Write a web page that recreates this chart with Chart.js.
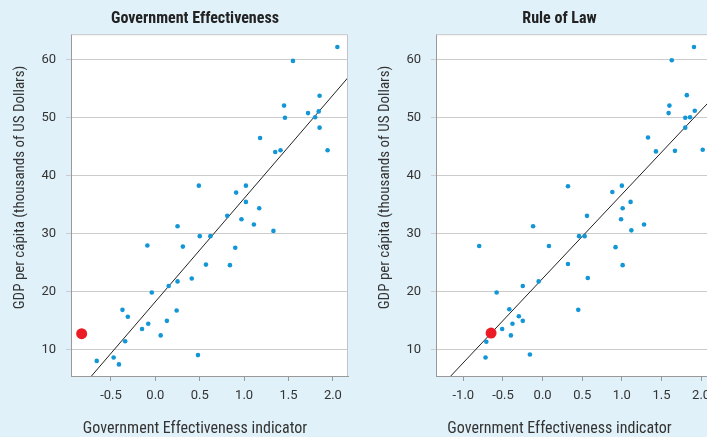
<!DOCTYPE html>
<html>
<head>
<meta charset="utf-8">
<script src="https://cdn.jsdelivr.net/npm/chart.js@4.4.1/dist/chart.umd.min.js"></script>
<style>
  html, body { margin: 0; padding: 0; background: #e1f1f9; overflow: hidden; }
  body { width: 707px; height: 437px; position: relative; }
  .box { position: absolute; top: 0; height: 437px; }
  #boxLeft { left: 0; width: 390px; }
  #boxRight { left: 366px; width: 387px; }
</style>
</head>
<body>
<div class="box" id="boxLeft"><canvas id="chartGov"></canvas></div>
<div class="box" id="boxRight"><canvas id="chartLaw"></canvas></div>
<script>
// Government Effectiveness panel (x = indicator, y = GDP per capita, thousands USD)
const govX = [2.05, 1.55, 1.85, 1.45, 1.72, 1.84, 1.46, 1.80, 1.85, 1.18, 1.35, 1.41, 1.94,
  0.49, 1.02, 0.91, 1.02, 1.17, 0.81, 0.97, 1.11, 0.25, 1.33, 0.50, 0.62, -0.09, 0.31, 0.90,
  0.57, 0.84, 0.41, 0.25, 0.15, -0.04, -0.37, 0.24, -0.31, 0.13, -0.08, -0.15, 0.06, -0.34,
  0.48, -0.47, -0.66, -0.41];
const govY = [62.2, 59.8, 53.8, 52.1, 50.8, 51.1, 50.0, 50.1, 48.3, 46.5, 44.1, 44.4, 44.4,
  38.3, 38.3, 37.1, 35.5, 34.4, 33.1, 32.5, 31.6, 31.3, 30.5, 29.6, 29.6, 28.0, 27.8, 27.6,
  24.7, 24.6, 22.3, 21.8, 21.0, 19.9, 16.9, 16.8, 15.7, 15.0, 14.5, 13.6, 12.5, 11.5,
  9.1, 8.7, 8.1, 7.5];
const govHighlight = [-0.83, 12.8];
const govFit = [17.8, 18.3]; // slope, intercept

// Rule of Law panel
const lawX = [1.91, 1.63, 1.82, 1.60, 1.59, 1.92, 1.80, 1.86, 1.80, 1.33, 1.43, 1.67, 2.02,
  0.32, 1.00, 0.88, 1.11, 1.01, 0.56, 0.99, 1.28, -0.12, 1.12, 0.46, 0.53, -0.80, 0.08, 0.92,
  0.32, 1.01, 0.57, -0.05, -0.25, -0.58, -0.42, 0.45, -0.30, -0.25, -0.38, -0.51, -0.40,
  -0.71, -0.16, -0.72];
const lawY = [62.2, 59.9, 53.9, 52.1, 50.8, 51.2, 50.0, 50.1, 48.3, 46.6, 44.2, 44.3, 44.5,
  38.2, 38.3, 37.2, 35.5, 34.4, 33.1, 32.5, 31.6, 31.3, 30.6, 29.6, 29.6, 27.9, 27.9, 27.7,
  24.8, 24.6, 22.4, 21.8, 21.0, 19.9, 17.0, 16.9, 15.8, 15.0, 14.5, 13.6, 12.5,
  11.4, 9.2, 8.7];
const lawHighlight = [-0.65, 12.9];
const lawFit = [14.5, 22.3];

const yTicks = [10, 20, 30, 40, 50, 60];
const govTicks = [-0.5, 0.0, 0.5, 1.0, 1.5, 2.0];
const lawTicks = [-1.0, -0.5, 0.0, 0.5, 1.0, 1.5, 2.0];

const xTitle = "Government Effectiveness indicator";
const yTitle = "GDP per cápita (thousands of US Dollars)";

const narrow = "'Roboto Condensed', 'Liberation Sans Narrow', Roboto, sans-serif";
const tickFont = "Roboto, 'Liberation Sans', sans-serif";

const plotFrame = {
  id: 'plotFrame',
  beforeDraw(chart) {
    const {ctx, chartArea: a} = chart;
    ctx.save();
    ctx.fillStyle = '#ffffff';
    ctx.fillRect(a.left, a.top, a.right - a.left, a.bottom - a.top);
    ctx.restore();
  },
  afterDraw(chart) {
    const {ctx, chartArea: a} = chart;
    ctx.save();
    ctx.strokeStyle = '#c4c4c4';
    ctx.lineWidth = 1;
    ctx.beginPath();
    ctx.moveTo(a.left, a.top + 0.5);
    ctx.lineTo(a.right - 0.5, a.top + 0.5);
    ctx.lineTo(a.right - 0.5, a.bottom);
    ctx.stroke();
    ctx.restore();
  }
};

// axis titles centred over the whole panel rather than the plot area
function axisTitles(yTitleX) {
  return {
    id: 'axisTitles',
    afterDraw(chart) {
      const ctx = chart.ctx;
      ctx.save();
      ctx.fillStyle = '#333333';
      ctx.textAlign = 'center';
      ctx.textBaseline = 'middle';
      ctx.font = "16px " + narrow;
      ctx.fillText(xTitle, chart.width / 2, 429);
      ctx.font = "15px " + narrow;
      ctx.translate(yTitleX, 187.5);
      ctx.rotate(-Math.PI / 2);
      ctx.fillText(yTitle, 0, 0);
      ctx.restore();
    }
  };
}

function makeChart(id, title, xs, ys, hi, fit, xTicks, xMin, xMax, yAxisW, rightGap, yTitleX) {
  const pts = xs.map((x, i) => ({x: x, y: ys[i]}));
  const fitPts = [xMin - 1, xMax + 1].map(x => ({x: x, y: fit[0] * x + fit[1]}));
  return new Chart(document.getElementById(id), {
    type: 'scatter',
    data: {
      datasets: [
        {
          data: [{x: hi[0], y: hi[1]}],
          backgroundColor: '#ec1c27',
          borderWidth: 0,
          pointRadius: 5.5,
        },
        {
          data: pts,
          backgroundColor: '#1296d6',
          borderWidth: 0,
          pointRadius: 2.3,
        },
        {
          type: 'line',
          data: fitPts,
          borderColor: '#222222',
          borderWidth: 1,
          pointRadius: 0,
          fill: false,
        },
      ],
    },
    options: {
      responsive: true,
      maintainAspectRatio: false,
      animation: false,
      events: [],
      layout: { padding: 0 },
      plugins: {
        legend: { display: false },
        tooltip: { enabled: false },
        title: {
          display: true,
          text: title,
          color: '#222222',
          font: { family: narrow, size: 16, weight: 'bold', lineHeight: 1.2 },
          padding: { top: 9, bottom: 6 },
        },
      },
      scales: {
        x: {
          type: 'linear',
          min: xMin,
          max: xMax,
          afterBuildTicks: (s) => { s.ticks = xTicks.map(v => ({value: v})); },
          afterFit: (s) => { s.height = 61; },
          grid: { drawOnChartArea: false, drawTicks: true, tickLength: 5, color: '#999999' },
          border: { display: true, color: '#999999' },
          ticks: {
            color: '#333333',
            padding: 7,
            font: { family: tickFont, size: 13 },
            callback: (v) => v.toFixed(1),
          },
        },
        y: {
          type: 'linear',
          min: 5.5,
          max: 64.4,
          afterBuildTicks: (s) => { s.ticks = yTicks.map(v => ({value: v})); },
          afterFit: (s) => { s.width = yAxisW; },
          grid: { color: '#cccccc', tickLength: 5, drawTicks: true },
          border: { display: true, color: '#999999' },
          ticks: {
            color: '#333333',
            padding: 10,
            font: { family: tickFont, size: 13 },
          },
        },
        // empty spacer on the right so the title centres over the whole panel
        spacer: {
          type: 'linear',
          position: 'right',
          display: true,
          afterFit: (s) => { s.width = rightGap; },
          grid: { display: false },
          border: { display: false },
          ticks: { display: false },
        },
      },
    },
    plugins: [plotFrame, axisTitles(yTitleX)],
  });
}

makeChart('chartGov', 'Government Effectiveness', govX, govY, govHighlight, govFit,
  govTicks, -0.95, 2.17, 71, 42, 20);
makeChart('chartLaw', 'Rule of Law', lawX, lawY, lawHighlight, lawFit,
  lawTicks, -1.345, 2.15, 70, 40, 19);
</script>
</body>
</html>
